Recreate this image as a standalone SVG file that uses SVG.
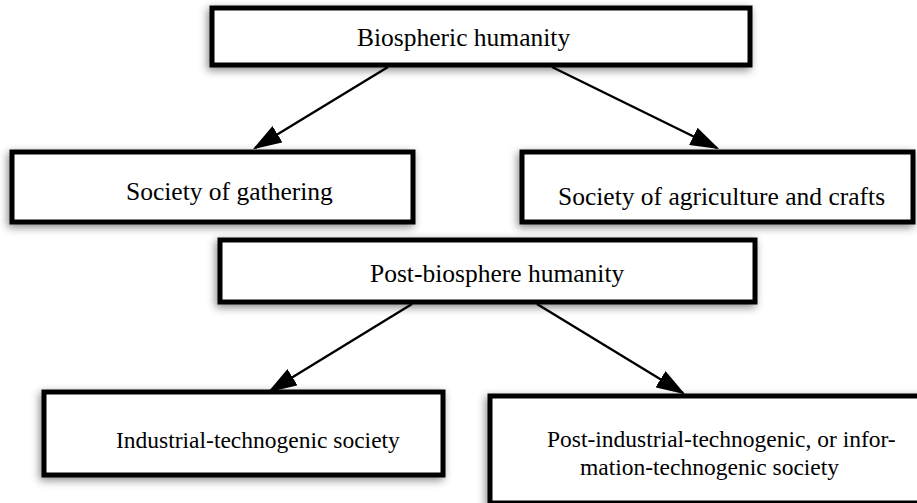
<svg xmlns="http://www.w3.org/2000/svg" width="917" height="503" viewBox="0 0 917 503">
<defs>
<filter id="sh" x="-10%" y="-30%" width="120%" height="160%">
<feDropShadow dx="-2" dy="3" stdDeviation="4" flood-color="#000" flood-opacity="0.45"/>
</filter>
<marker id="ah" markerWidth="12" markerHeight="8" refX="11" refY="4" orient="auto" markerUnits="strokeWidth">
<path d="M0,0 L12,4 L0,8 Z" fill="#000"/>
</marker>
<style>
.box{fill:#fff;stroke:#000;stroke-width:5;filter:url(#sh)}
.t{font-family:"Liberation Serif","Times New Roman",serif;font-size:25.5px;fill:#000}
.s{font-size:23.5px}
.c{stroke:#000;stroke-width:2.4;fill:none;marker-end:url(#ah)}
</style>
</defs>
<g id="connectors">
<line class="c" x1="388" y1="67" x2="255" y2="148"/>
<line class="c" x1="552" y1="67" x2="717" y2="148"/>
<line class="c" x1="412" y1="304" x2="270" y2="391"/>
<line class="c" x1="537" y1="304" x2="683" y2="393"/>
</g>
<g id="n1"><rect class="box" x="212" y="8" width="538" height="57"/><text class="t" x="357" y="46">Biospheric humanity</text></g>
<g id="n2"><rect class="box" x="12" y="152" width="401" height="70"/><text class="t" x="126" y="200">Society of gathering</text></g>
<g id="n3"><rect class="box" x="522" y="152" width="391" height="70"/><text class="t" x="558" y="205">Society of agriculture and crafts</text></g>
<g id="n4"><rect class="box" x="220" y="240" width="535" height="62"/><text class="t" x="370" y="282">Post-biosphere humanity</text></g>
<g id="n5"><rect class="box" x="44" y="392" width="399" height="83"/><text class="t s" x="116" y="448">Industrial-technogenic society</text></g>
<g id="n6"><rect class="box" x="490" y="396" width="440" height="107"/><text class="t s" x="547" y="447">Post-industrial-technogenic, or infor-</text><text class="t s" x="580" y="475">mation-technogenic society</text></g>
</svg>
